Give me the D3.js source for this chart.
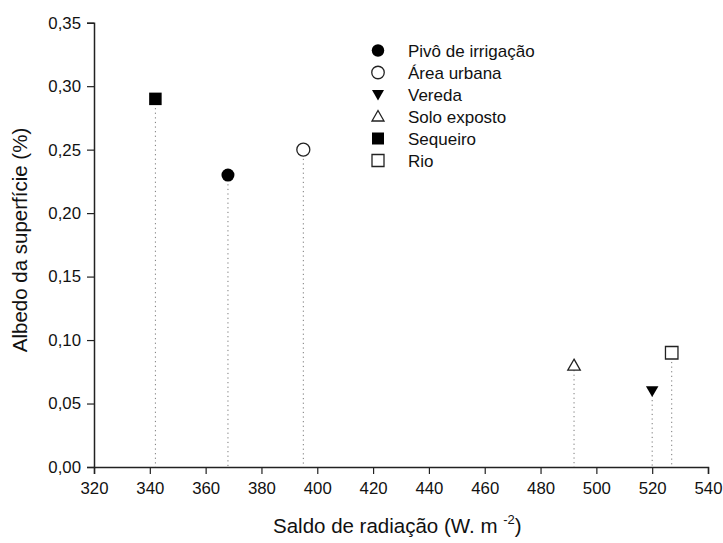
<!DOCTYPE html>
<html>
<head>
<meta charset="utf-8">
<script src="https://cdn.jsdelivr.net/npm/d3@7"></script>
<style>
  body { margin: 0; background: #fff; }
  svg { font-family: "Liberation Sans", Arial, sans-serif; }
</style>
</head>
<body>
<div id="chart"></div>
<script>
// Land cover classes, in legend order
const categories = ["Pivô de irrigação", "Área urbana", "Vereda", "Solo exposto", "Sequeiro", "Rio"];
const saldo = [368, 395, 520, 492, 342, 527];      // W m-2
const albedo = [0.23, 0.25, 0.06, 0.08, 0.29, 0.09];
const symbols = ["circle", "circle", "triangleDown", "triangle", "square", "square"];
const filled = [true, false, true, false, true, false];

const xTicks = [320, 340, 360, 380, 400, 420, 440, 460, 480, 500, 520, 540];
const yTicks = [0, 0.05, 0.10, 0.15, 0.20, 0.25, 0.30, 0.35];

const width = 723, height = 543;
const margin = { top: 22.7, right: 15, bottom: 76, left: 94 };

const svg = d3.select("#chart").append("svg")
  .attr("width", width)
  .attr("height", height);

const x = d3.scaleLinear().domain([320, 540]).range([margin.left, width - margin.right]);
const y = d3.scaleLinear().domain([0, 0.35]).range([height - margin.bottom, margin.top]);

const fmt = (v) => v.toFixed(2).replace(".", ",");

// Axes
const xAxis = svg.append("g")
  .attr("transform", `translate(0,${y(0)})`)
  .call(d3.axisBottom(x).tickValues(xTicks).tickSizeOuter(0).tickSize(7).tickPadding(8));
const yAxis = svg.append("g")
  .attr("transform", `translate(${x(320)},0)`)
  .call(d3.axisLeft(y).tickValues(yTicks).tickFormat(fmt).tickSizeOuter(0).tickSize(7).tickPadding(6));

[xAxis, yAxis].forEach((a) => {
  a.select(".domain").attr("stroke", "#222").attr("stroke-width", 1.5);
  a.selectAll(".tick line").attr("stroke", "#222").attr("stroke-width", 1.2);
  a.selectAll(".tick text")
    .attr("fill", "#111")
    .style("font-size", "16.8px")
    .style("font-family", "'Liberation Sans', Arial, sans-serif");
});

// Marker shapes
function shape(name, size) {
  const h = size / 2;
  if (name === "square") return `M${-h},${-h}H${h}V${h}H${-h}Z`;
  if (name === "circle") return d3.symbol(d3.symbolCircle, Math.PI * h * h)();
  if (name === "triangle") return `M0,${-h}L${h},${h * 0.75}L${-h},${h * 0.75}Z`;
  return `M${-h},${-h * 0.75}L${h},${-h * 0.75}L0,${h}Z`;
}

// Dotted drop lines
categories.forEach((c, i) => {
  svg.append("line")
    .attr("x1", x(saldo[i])).attr("x2", x(saldo[i]))
    .attr("y1", y(albedo[i])).attr("y2", y(0))
    .attr("stroke", "#777")
    .attr("stroke-width", 1)
    .attr("stroke-dasharray", "1.2,3.4");
});

// Points
categories.forEach((c, i) => {
  svg.append("path")
    .attr("d", shape(symbols[i], symbols[i] === "circle" ? 13 : 12.5))
    .attr("transform", `translate(${x(saldo[i])},${y(albedo[i])})`)
    .attr("fill", filled[i] ? "#000" : "#fff")
    .attr("stroke", filled[i] ? "none" : "#222")
    .attr("stroke-width", 1.3);
});

// Legend
const legend = svg.append("g").attr("transform", "translate(378,50.5)");
categories.forEach((c, i) => {
  const row = legend.append("g").attr("transform", `translate(0,${i * 22})`);
  row.append("path")
    .attr("d", shape(symbols[i], symbols[i] === "circle" ? 12.5 : 12))
    .attr("fill", filled[i] ? "#000" : "#fff")
    .attr("stroke", filled[i] ? "none" : "#222")
    .attr("stroke-width", 1.3);
  row.append("text")
    .attr("x", 30)
    .attr("dy", "0.36em")
    .style("font-size", "17px")
    .attr("fill", "#111")
    .text(c);
});

// Axis titles
const xt = svg.append("text")
  .attr("x", 273)
  .attr("y", 533)
  .style("font-size", "20.5px")
  .attr("fill", "#111");
xt.append("tspan").text("Saldo de radiação (W. m ");
xt.append("tspan").attr("dy", -9).style("font-size", "13px").text("-2");
xt.append("tspan").attr("dy", 9).text(")");

svg.append("text")
  .attr("transform", "translate(27,240) rotate(-90)")
  .attr("text-anchor", "middle")
  .style("font-size", "20.5px")
  .attr("fill", "#111")
  .text("Albedo da superfície (%)");
</script>
</body>
</html>
